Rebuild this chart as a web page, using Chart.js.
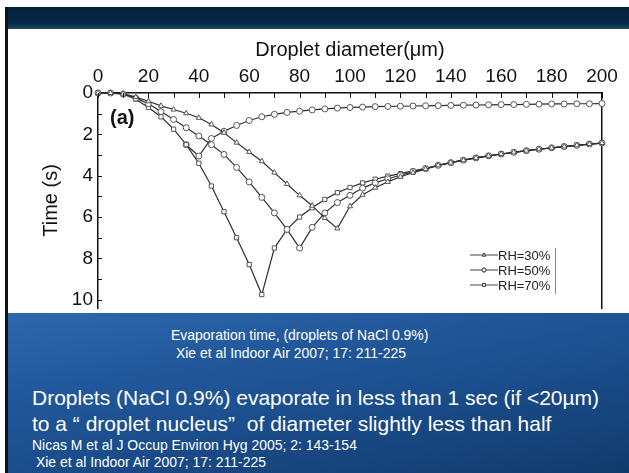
<!DOCTYPE html>
<html>
<head>
<meta charset="utf-8">
<script src="https://cdn.jsdelivr.net/npm/chart.js@4.4.1/dist/chart.umd.min.js"></script>
<style>
  html, body { margin: 0; padding: 0; }
  body { width: 629px; height: 473px; background: #fff; position: relative; overflow: hidden;
         font-family: 'Liberation Sans', Arial, sans-serif; }
  #edge { position: absolute; left: 5px; top: 7px; width: 3px; height: 466px; background: #111; }
  #hdr { position: absolute; left: 8px; top: 7px; width: 621px; height: 22px;
         background: linear-gradient(#05223a 0%, #07284a 75%, #1c4a63 100%); }
  #plot { position: absolute; left: 8px; top: 29px; width: 621px; height: 284px; background: #fff; overflow: hidden; }
  #panel { position: absolute; left: 8px; top: 313px; width: 621px; height: 160px;
           background: linear-gradient(170deg, #2d67ad 0%, #22599c 30%, #1a4c8a 60%, #113a6c 100%); color: #fff; }
  .small { position: absolute; font-family: 'Liberation Sans', Arial, sans-serif;
           font-size: 15px; white-space: pre; line-height: 1; transform: scaleX(0.93); transform-origin: 0 0; }
  .big { position: absolute; font-size: 21px; white-space: pre; line-height: 1; }
</style>
</head>
<body>
<div id="edge"></div>
<div id="hdr"></div>
<div id="plot"><canvas id="c" width="621" height="284"></canvas></div>
<div id="panel">
  <div class="small" style="left:163px; top:14px;">Evaporation time, (droplets of NaCl 0.9%)</div>
  <div class="small" style="left:164px; top:32px;"> Xie et al Indoor Air 2007; 17: 211-225</div>
  <div class="big" style="left:24px; top:74px;">Droplets (NaCl 0.9%) evaporate in less than 1 sec (if &lt;20µm)</div>
  <div class="big" style="left:24px; top:100px;">to a “ droplet nucleus”  of diameter slightly less than half</div>
  <div class="small" style="left:24px; top:124px;">Nicas M et al J Occup Environ Hyg 2005; 2: 143-154</div>
  <div class="small" style="left:24px; top:141px;"> Xie et al Indoor Air 2007; 17: 211-225</div>
</div>
<script>
// --- data: diameter (um) vs time (s) ---
const rh30D = [0, 5, 10, 15, 20, 25, 30, 35, 40, 45, 50, 55, 60, 65, 70, 75, 80, 85, 90, 95,
               100, 105, 110, 115, 120, 125, 130, 135, 140, 145, 150, 155, 160, 165, 170, 175, 180, 185, 190, 195, 200];
const rh30T = [0, 0, 0.03, 0.2, 0.4, 0.62, 0.8, 0.98, 1.2, 1.52, 1.92, 2.4, 2.85, 3.3, 3.85, 4.4, 4.95, 5.45, 6.05, 6.55,
               5.48, 4.92, 4.58, 4.3, 4.05, 3.85, 3.68, 3.5, 3.37, 3.25, 3.14, 3.04, 2.95, 2.87, 2.79, 2.72, 2.65, 2.59, 2.53, 2.47, 2.42];

const rh50D = [0, 5, 10, 15, 20, 25, 30, 35, 40, 45, 50, 55, 60, 65, 70, 75, 80,
               85, 90, 95, 100, 105, 110, 115, 120, 125, 130, 135, 140, 145, 150, 155, 160, 165, 170, 175, 180, 185, 190, 195, 200];
const rh50T = [0, 0, 0.05, 0.25, 0.52, 0.9, 1.28, 1.68, 2.08, 2.5, 2.97, 3.6, 4.3, 5.05, 5.8, 6.6, 7.5,
               6.5, 5.8, 5.3, 4.95, 4.6, 4.35, 4.15, 3.98, 3.8, 3.66, 3.5, 3.37, 3.25, 3.14, 3.04, 2.95, 2.87, 2.79, 2.72, 2.65, 2.59, 2.53, 2.47, 2.42];

const rh70D = [0, 5, 10, 15, 20, 25, 30, 35, 40, 45, 50, 55, 60, 65,
               70, 75, 80, 85, 90, 95, 100, 105, 110, 115, 120, 125, 130, 135, 140, 145, 150, 155, 160, 165, 170, 175, 180, 185, 190, 195, 200];
const rh70T = [0, 0, 0.06, 0.3, 0.7, 1.15, 1.75, 2.5, 3.4, 4.5, 5.74, 7.0, 8.3, 9.75,
               7.5, 6.6, 6.0, 5.55, 5.15, 4.82, 4.57, 4.35, 4.17, 4.02, 3.9, 3.77, 3.64, 3.5, 3.37, 3.25, 3.14, 3.04, 2.95, 2.87, 2.79, 2.72, 2.65, 2.59, 2.53, 2.47, 2.42];

// upper branch (no legend entry in the figure)
const upperD = [35, 40, 45, 50, 55, 60, 65, 70, 75, 80, 85, 90, 95, 100, 105, 110, 115, 120, 125, 130,
                135, 140, 145, 150, 155, 160, 165, 170, 175, 180, 185, 190, 195, 200];
const upperT = [2.5, 3.05, 2.2, 1.85, 1.57, 1.33, 1.15, 1.03, 0.94, 0.88, 0.82, 0.77, 0.73, 0.7, 0.68, 0.66, 0.65, 0.64, 0.63, 0.62,
                0.61, 0.6, 0.59, 0.58, 0.57, 0.56, 0.56, 0.55, 0.54, 0.53, 0.53, 0.52, 0.52, 0.51];

const seriesLabels = ['RH=30%', 'RH=50%', 'RH=70%'];
const xTicks = [0, 20, 40, 60, 80, 100, 120, 140, 160, 180, 200];
const xMinor = [0, 10, 20, 30, 40, 50, 60, 70, 80, 90, 100, 110, 120, 130, 140, 150, 160, 170, 180, 190, 200];
const yTicks = [0, 2, 4, 6, 8, 10];
const yMinor = [1, 2, 3, 4, 5, 6, 7, 8, 9, 10];

const FONT = "'Liberation Sans', Arial, sans-serif";
const pts = (xs, ys) => xs.map((x, i) => ({ x, y: ys[i] }));

const lineStyle = style => ({
    borderColor: '#2e2e2e',
    borderWidth: 1.2,
    pointStyle: style,
    pointRadius: 3,
    pointBorderWidth: 1,
    pointBorderColor: '#555',
    pointBackgroundColor: '#fff',
    tension: 0,
    clip: false,
});

// inward tick marks on the top and left axes
const inTicks = {
    id: 'inTicks',
    afterDatasetsDraw(chart) {
        const { ctx, scales: { x, y } } = chart;
        ctx.save();
        ctx.strokeStyle = '#111';
        ctx.lineWidth = 1;
        ctx.beginPath();
        xMinor.forEach(v => {
            const px = Math.round(x.getPixelForValue(v)) + 0.5;
            ctx.moveTo(px, x.bottom);
            ctx.lineTo(px, x.bottom + 5);
        });
        yMinor.forEach(v => {
            const py = Math.round(y.getPixelForValue(v)) + 0.5;
            ctx.moveTo(y.right, py);
            ctx.lineTo(y.right + 4, py);
        });
        ctx.stroke();
        ctx.restore();
    },
};

// legend box in the lower right of the plot + panel label
const boxLegend = {
    id: 'boxLegend',
    afterDraw(chart) {
        const ctx = chart.ctx;
        ctx.save();
        ctx.font = `bold 20px ${FONT}`;
        ctx.fillStyle = '#111';
        ctx.textBaseline = 'middle';
        ctx.fillText('(a)', 102, 89);

        const x0 = 462, y0 = 226, dy = 15;
        ctx.font = `13px ${FONT}`;
        chart.data.datasets.slice(0, 3).forEach((ds, i) => {
            const yy = y0 + i * dy;
            ctx.strokeStyle = '#444';
            ctx.lineWidth = 1;
            ctx.beginPath();
            ctx.moveTo(x0, yy);
            ctx.lineTo(x0 + 28, yy);
            ctx.stroke();
            Chart.helpers.drawPoint(ctx, { pointStyle: ds.pointStyle, radius: 2, borderWidth: 1 }, x0 + 14, yy);
            ctx.fillStyle = '#fff';
            ctx.fill();
            ctx.stroke();
            ctx.fillStyle = '#222';
            ctx.fillText(ds.label, x0 + 28, yy + 1);
        });
        ctx.strokeStyle = '#888';
        ctx.beginPath();
        ctx.moveTo(547.5, 219);
        ctx.lineTo(547.5, 265);
        ctx.stroke();
        ctx.restore();
    },
};

new Chart(document.getElementById('c'), {
    type: 'line',
    data: {
        datasets: [
            { label: seriesLabels[0], data: pts(rh30D, rh30T), ...lineStyle('triangle') },
            { label: seriesLabels[1], data: pts(rh50D, rh50T), ...lineStyle('circle') },
            { label: seriesLabels[2], data: pts(rh70D, rh70T), ...lineStyle('rect') },
            { label: '', data: pts(upperD, upperT), ...lineStyle('circle') },
        ],
    },
    options: {
        responsive: false,
        animation: false,
        layout: { padding: 0 },
        plugins: { legend: { display: false }, tooltip: { enabled: false } },
        scales: {
            x: {
                type: 'linear',
                position: 'top',
                min: 0,
                max: 200,
                afterBuildTicks: s => { s.ticks = xTicks.map(v => ({ value: v })); },
                afterFit: s => { s.height = 64; s.paddingLeft = 0; s.paddingRight = 0; },
                grid: { display: false, drawTicks: false, tickLength: 0 },
                border: { color: '#111', width: 1.5 },
                ticks: { color: '#111', font: { family: FONT, size: 19 }, padding: 5, autoSkip: false, maxRotation: 0 },
                title: { display: true, text: 'Droplet diameter(μm)', color: '#111',
                         font: { family: FONT, size: 20 }, padding: { top: 9, bottom: 0 } },
            },
            y: {
                type: 'linear',
                reverse: true,
                min: 0,
                max: 10.4,
                afterBuildTicks: s => { s.ticks = yTicks.map(v => ({ value: v })); },
                afterFit: s => { s.width = 90; s.paddingTop = 0; s.paddingBottom = 0; },
                grid: { display: false, drawTicks: false, tickLength: 0 },
                border: { color: '#111', width: 1.5 },
                ticks: { color: '#111', font: { family: FONT, size: 19 }, padding: 5, autoSkip: false },
                title: { display: true, text: 'Time (s)', color: '#111',
                         font: { family: FONT, size: 20 }, padding: { top: 31, bottom: 0 } },
            },
            y2: {
                type: 'linear',
                position: 'right',
                afterFit: s => { s.width = 27; s.paddingTop = 0; s.paddingBottom = 0; },
                grid: { display: false, drawTicks: false, tickLength: 0 },
                ticks: { display: false },
                border: { color: '#111', width: 1.5 },
            },
        },
    },
    plugins: [inTicks, boxLegend],
});
</script>
</body>
</html>
